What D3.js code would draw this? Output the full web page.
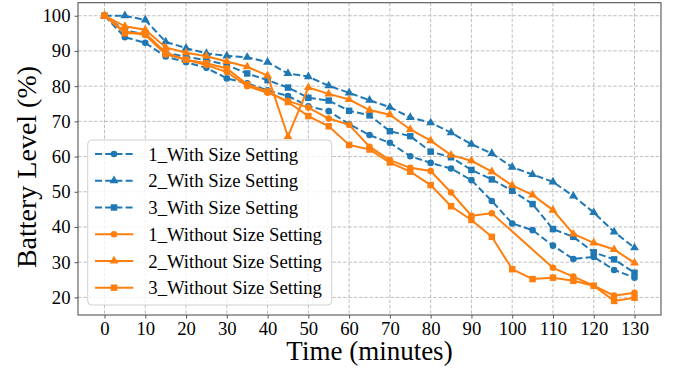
<!DOCTYPE html>
<html>
<head>
<meta charset="utf-8">
<script src="https://cdn.jsdelivr.net/npm/d3@7"></script>
<style>
body{margin:0;background:#fff;}
text{font-family:"Liberation Serif","Times New Roman",serif;fill:#000;}
.grid line{stroke:#b8b8b8;stroke-width:0.9;stroke-dasharray:3.5,1.8;}
.axis text{font-size:18.7px;font-family:"Liberation Serif","Times New Roman",serif;}
.axis line{stroke:#444;stroke-width:0.9;}
.axis path{display:none;}
.frame{fill:none;stroke:#555;stroke-width:1.1;}
.axis-tag{font-size:27px;}
.axis-tag.h{font-size:28px;}
.legend-box{fill:#fff;fill-opacity:0.8;stroke:#d0d0d0;stroke-width:1;}
.legend-tag{font-size:18.7px;}
</style>
</head>
<body>
<div id="chart"></div>
<script>
// minutes
let times = [0,5,10,15,20,25,30,35,40,45,50,55,60,65,70,75,80,85,90,95,100,105,110,115,120,125,130];

let with1 = [100,93.9,92.3,88.4,86.8,85.2,82.2,80.8,78.8,77.2,74.3,72.9,69.2,66.1,63.9,60.1,58.2,56.6,53.3,47.4,41.0,39.1,34.7,30.9,31.5,27.8,25.6];
let with2 = [100,100,98.8,92.6,90.8,89.3,88.6,88.2,86.8,83.6,82.7,80.1,78.1,76.0,74.0,71.1,69.6,66.8,63.5,60.9,57.0,54.9,52.8,48.8,44.1,38.6,34.1];
let with3 = [100,95.8,94.8,89.5,88.3,87.4,86.0,83.6,81.7,79.6,76.7,75.9,73.0,71.7,67.2,65.8,61.4,59.8,56.2,53.5,50.3,46.5,39.4,37.2,32.8,30.8,27.0];
// no reading at 100 and 105 for this run
let without1 = [100,95.5,94.5,89.0,87.5,86.0,84.0,80.0,78.1,75.8,73.9,70.8,69.0,62.8,59.0,56.8,55.9,49.8,43.2,43.9,null,null,28.4,25.9,23.3,20.5,21.3];
let without2 = [100,97.0,96.0,91.0,89.5,88.5,87.0,85.5,83.0,65.7,79.6,77.8,76.2,73.2,71.9,67.7,64.5,60.4,58.8,55.7,51.8,49.1,44.8,38.0,35.5,33.6,29.8];
let without3 = [100,95.0,95.0,89.5,87.5,86.5,85.0,80.5,78.5,75.5,71.5,68.6,63.3,62.0,58.3,55.7,51.9,45.9,42.0,37.2,28.0,25.2,25.6,24.7,23.3,19.0,19.9];

let labels = ["1_With Size Setting","2_With Size Setting","3_With Size Setting",
	"1_Without Size Setting","2_Without Size Setting","3_Without Size Setting"];

let x_ticks = [0,10,20,30,40,50,60,70,80,90,100,110,120,130];
let y_ticks = [20,30,40,50,60,70,80,90,100];

function renderChart(){
	let total_width = 680;
	let total_height = 368;
	let plot = {left:78, right:661, top:2.7, bottom:315};

	let blue = "#1f77b4", orange = "#ff7f0e";
	let series = [
		{values:with1, color:blue, dashed:true, symbol:d3.symbolCircle, size:34},
		{values:with2, color:blue, dashed:true, symbol:d3.symbolTriangle, size:34},
		{values:with3, color:blue, dashed:true, symbol:d3.symbolSquare, size:42},
		{values:without1, color:orange, dashed:false, symbol:d3.symbolCircle, size:34},
		{values:without2, color:orange, dashed:false, symbol:d3.symbolTriangle, size:34},
		{values:without3, color:orange, dashed:false, symbol:d3.symbolSquare, size:42}
	];

	var x = d3.scaleLinear().domain([-6.5,136.5]).range([plot.left,plot.right]);
	var y = d3.scaleLinear().domain([15.0,103.7]).range([plot.bottom,plot.top]);

	var svg = d3.select("#chart").append("svg")
		.attr("width", total_width)
		.attr("height", total_height);

	// grid
	let grid = svg.append("g").attr("class","grid");
	grid.selectAll(".gx").data(x_ticks).enter().append("line")
		.attr("x1",d=>x(d)).attr("x2",d=>x(d))
		.attr("y1",plot.top).attr("y2",plot.bottom);
	grid.selectAll(".gy").data(y_ticks).enter().append("line")
		.attr("x1",plot.left).attr("x2",plot.right)
		.attr("y1",d=>y(d)).attr("y2",d=>y(d));

	let line = d3.line()
		.x(d=>x(d.t))
		.y(d=>y(d.v));

	series.forEach(function(s){
		let pts = times.map((t,i)=>({t:t, v:s.values[i]})).filter(d=>d.v!==null);
		let g = svg.append("g");
		g.append("path").datum(pts)
			.attr("fill","none")
			.attr("stroke",s.color)
			.attr("stroke-width",2)
			.attr("stroke-dasharray",s.dashed?"7,3.2":null)
			.attr("d",line);
		g.selectAll("path.mark").data(pts).enter().append("path")
			.attr("class","mark")
			.attr("fill",s.color)
			.attr("transform",d=>"translate("+x(d.t)+","+y(d.v)+")")
			.attr("d",d3.symbol().type(s.symbol).size(s.size));
	});

	svg.append("rect").attr("class","frame")
		.attr("x",plot.left).attr("y",plot.top)
		.attr("width",plot.right-plot.left).attr("height",plot.bottom-plot.top);

	// axes
	svg.append("g")
		.attr("class","axis")
		.attr("transform","translate(0,"+plot.bottom+")")
		.call(d3.axisBottom(x).tickValues(x_ticks).tickSize(3.5).tickPadding(3).tickFormat(d3.format("d")));
	svg.append("g")
		.attr("class","axis")
		.attr("transform","translate("+plot.left+",0)")
		.call(d3.axisLeft(y).tickValues(y_ticks).tickSize(3.5).tickPadding(4).tickFormat(d3.format("d")));

	svg.append("text")
		.attr("class","axis-tag")
		.attr("x",(plot.left+plot.right)/2)
		.attr("y",360)
		.attr("text-anchor","middle")
		.text("Time (minutes)");
	svg.append("text")
		.attr("class","axis-tag h")
		.attr("transform","translate(36,167) rotate(-90)")
		.attr("text-anchor","middle")
		.text("Battery Level (%)");

	// legend
	let legend = svg.append("g");
	legend.append("rect").attr("class","legend-box")
		.attr("x",87.7).attr("y",140)
		.attr("width",244).attr("height",165)
		.attr("rx",4);
	let row_y = d3.scaleLinear().domain([0,5]).range([154,287.7]);
	labels.forEach(function(lbl,i){
		let s = series[i];
		let yy = row_y(i);
		legend.append("line")
			.attr("x1",95).attr("x2",133.3)
			.attr("y1",yy).attr("y2",yy)
			.attr("stroke",s.color)
			.attr("stroke-width",2)
			.attr("stroke-dasharray",s.dashed?"7,3.2":null);
		legend.append("path")
			.attr("fill",s.color)
			.attr("transform","translate(114,"+yy+")")
			.attr("d",d3.symbol().type(s.symbol).size(s.size));
		legend.append("text")
			.attr("class","legend-tag")
			.attr("x",148.3)
			.attr("y",yy)
			.attr("dy","0.35em")
			.text(lbl);
	});
}

renderChart();
</script>
</body>
</html>
